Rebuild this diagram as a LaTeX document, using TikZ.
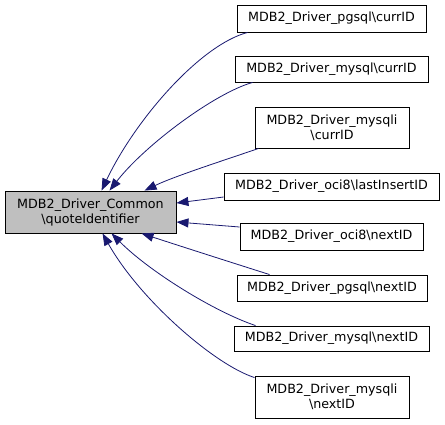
\documentclass[tikz,border=0pt]{standalone}
\usepackage{fontspec}
\setmainfont{DejaVu Sans}
\usetikzlibrary{arrows.meta}
\definecolor{edgeblue}{HTML}{191970}
\definecolor{mainfill}{HTML}{BFBFBF}
\tikzset{
  box/.style={draw=black, line width=0.9pt, fill=white, inner sep=0pt, align=center,
    font=\fontsize{12.7}{15}\selectfont},
  mainbox/.style={box, fill=mainfill},
  edge/.style={draw=edgeblue, line width=0.8pt, -{Triangle[length=12pt,width=9pt]}},
}
\begin{document}
\begin{tikzpicture}[x=1pt,y=-1pt]
\useasboundingbox (0,0) rectangle (445,424);
\node[mainbox, minimum width=171pt, minimum height=42pt] (main) at (90.5,212) {MDB2\_Driver\_Common\\\textbackslash quoteIdentifier};
\node[box, minimum width=189pt, minimum height=27pt] (n1) at (331.5,18.5) {MDB2\_Driver\_pgsql\textbackslash currID};
\node[box, minimum width=193pt, minimum height=26pt] (n2) at (331.5,69) {MDB2\_Driver\_mysql\textbackslash currID};
\node[box, minimum width=154pt, minimum height=41pt] (n3) at (332,127.5) {MDB2\_Driver\_mysqli\\\textbackslash currID};
\node[box, minimum width=215pt, minimum height=27pt] (n4) at (331.5,186.5) {MDB2\_Driver\_oci8\textbackslash lastInsertID};
\node[box, minimum width=183pt, minimum height=27pt] (n5) at (331.5,236.5) {MDB2\_Driver\_oci8\textbackslash nextID};
\node[box, minimum width=190pt, minimum height=26pt] (n6) at (332,288) {MDB2\_Driver\_pgsql\textbackslash nextID};
\node[box, minimum width=195pt, minimum height=25pt] (n7) at (331.5,338.5) {MDB2\_Driver\_mysql\textbackslash nextID};
\node[box, minimum width=154pt, minimum height=42pt] (n8) at (332,397) {MDB2\_Driver\_mysqli\\\textbackslash nextID};

\draw[edge] ([xshift=11pt]n1.south west) .. controls (200,45) and (135,120) .. ([xshift=97pt]main.north west);
\draw[edge] ([xshift=18pt]n2.south west) .. controls (215,93) and (145,145) .. ([xshift=105pt]main.north west);
\draw[edge] ([xshift=4pt]n3.south west) .. controls (225,160) and (175,176) .. ([xshift=140pt]main.north west);
\draw[edge] ([yshift=-10.5pt]n4.west) -- ([yshift=9pt]main.east);
\draw[edge] ([yshift=9.5pt]n5.west) -- ([yshift=-10pt]main.east);
\draw[edge] ([xshift=33pt]n6.north west) .. controls (230,262) and (180,246) .. ([xshift=137pt]main.south west);
\draw[edge] ([xshift=22pt]n7.north west) .. controls (215,312) and (150,272) .. ([xshift=107pt]main.south west);
\draw[edge] ([yshift=-2pt]n8.north west) .. controls (215,365) and (140,300) .. ([xshift=98pt]main.south west);
\end{tikzpicture}
\end{document}
